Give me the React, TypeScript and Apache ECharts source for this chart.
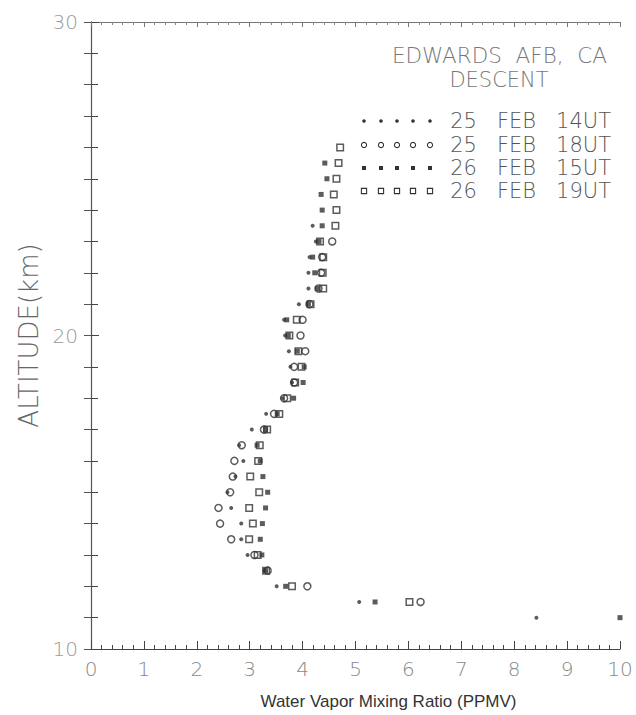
import React, { useEffect, useRef } from "react";
import * as echarts from "echarts";

const altitudes = [11, 11.5, 12, 12.5, 13, 13.5, 14, 14.5, 15, 15.5, 16, 16.5, 17, 17.5, 18, 18.5, 19, 19.5, 20, 20.5, 21, 21.5, 22, 22.5, 23, 23.5, 24, 24.5, 25, 25.5, 26];

// 25 FEB 14UT (small filled dots)
const feb25_14 = [8.42, 5.07, 3.51, 3.28, 2.96, 2.84, 2.84, 2.65, 2.58, 2.73, 2.88, 2.8, 3.04, 3.31, 3.62, 3.8, 3.77, 3.74, 3.67, 3.65, 3.93, 4.11, 4.11, 4.13, 4.25, 4.19, null, null, null, null, null];
// 25 FEB 18UT (open circles)
const feb25_18 = [null, 6.23, 4.09, 3.34, 3.09, 2.65, 2.44, 2.41, 2.63, 2.68, 2.71, 2.85, 3.27, 3.46, 3.65, 3.84, 3.84, 4.05, 3.96, 4.0, 4.13, 4.3, 4.35, 4.37, 4.56, null, null, null, null, null, null];
// 26 FEB 15UT (filled dots)
const feb26_15 = [10.0, 5.37, 3.68, 3.3, 3.23, 3.2, 3.24, 3.3, 3.34, 3.25, 3.2, 3.14, 3.3, 3.52, 3.83, 4.01, 4.03, 3.9, 3.73, 3.7, 4.11, 4.28, 4.23, 4.19, 4.31, 4.37, 4.37, 4.35, 4.46, 4.42, null];
// 26 FEB 19UT (open squares)
const feb26_19 = [null, 6.02, 3.8, 3.31, 3.15, 2.99, 3.06, 2.99, 3.18, 3.01, 3.16, 3.19, 3.33, 3.56, 3.71, 3.86, 3.98, 3.92, 3.75, 3.89, 4.15, 4.39, 4.38, 4.39, 4.33, 4.62, 4.64, 4.59, 4.64, 4.68, 4.71];

const seriesNames = ["25   FEB   14UT", "25   FEB   18UT", "26   FEB   15UT", "26   FEB   19UT"];
const xTicks = [0, 1, 2, 3, 4, 5, 6, 7, 8, 9, 10];
const yTicks = [10, 20, 30];

const toPoints = (vals: (number | null)[]) =>
  vals.map((v, i) => (v == null ? null : [v, altitudes[i]])).filter((p) => p !== null) as number[][];

const INK = "#333";

export default function App() {
  const ref = useRef<HTMLDivElement>(null);
  useEffect(() => {
    if (!ref.current) return;
    const chart = echarts.init(ref.current, null, { renderer: "svg" });

    const legendRowsY = [121, 145, 168, 191];
    const markerXs = [364, 381, 397, 413, 430];
    const graphics: any[] = [];
    legendRowsY.forEach((y, r) => {
      markerXs.forEach((x) => {
        if (r === 0) graphics.push({ type: "circle", shape: { cx: x, cy: y, r: 1.8 }, style: { fill: INK } });
        if (r === 1) graphics.push({ type: "circle", shape: { cx: x, cy: y, r: 2.6 }, style: { fill: "none", stroke: INK, lineWidth: 1.1 } });
        if (r === 2) graphics.push({ type: "rect", shape: { x: x - 2, y: y - 2, width: 4, height: 4 }, style: { fill: INK } });
        if (r === 3) graphics.push({ type: "rect", shape: { x: x - 2.6, y: y - 2.6, width: 5.2, height: 5.2 }, style: { fill: "none", stroke: INK, lineWidth: 1.1 } });
      });
      graphics.push({
        type: "text",
        x: 611,
        y: y,
        style: {
          text: seriesNames[r],
          align: "right",
          verticalAlign: "middle",
          fontSize: 21,
          lineHeight: 21,
          fontFamily: "DejaVu Sans",
          fontWeight: 200,
          fill: "#555",
        },
      });
    });
    graphics.push({
      type: "text",
      x: 607,
      y: 55,
      style: { text: "EDWARDS  AFB,  CA", align: "right", verticalAlign: "middle", fontSize: 21.5, fontFamily: "DejaVu Sans", fontWeight: 200, fill: "#777" },
    });
    graphics.push({
      type: "text",
      x: 499,
      y: 80,
      style: { text: "DESCENT", align: "center", verticalAlign: "middle", fontSize: 21, fontFamily: "DejaVu Sans", fontWeight: 200, fill: "#777" },
    });

    const baseAxisLine = { show: true, lineStyle: { color: "#444", width: 1.2 } };

    chart.setOption({
      animation: false,
      backgroundColor: "#fff",
      grid: { left: 91, right: 16, top: 22, bottom: 59, containLabel: false },
      xAxis: [
        {
          type: "value",
          min: 0,
          max: 10,
          interval: 1,
          position: "bottom",
          axisLine: baseAxisLine,
          axisTick: { show: true, inside: true, length: 8, lineStyle: { color: "#444" } },
          minorTick: { show: true, splitNumber: 5, length: 4, lineStyle: { color: "#444" } },
          splitLine: { show: false },
          axisLabel: {
            color: "#888",
            fontSize: 20,
            fontFamily: "DejaVu Sans",
            fontWeight: 200,
            margin: 10,
            formatter: (v: number) => (xTicks.includes(v) ? String(v) : ""),
          },
          name: "Water Vapor Mixing Ratio (PPMV)",
          nameLocation: "middle",
          nameGap: 44,
          nameTextStyle: { color: "#333", fontSize: 17, fontFamily: "Liberation Sans", padding: [0, 0, 0, 66] },
        },
        {
          type: "value",
          min: 0,
          max: 10,
          interval: 1,
          position: "top",
          axisLine: { show: true, lineStyle: { color: "#777", width: 1 } },
          axisTick: { show: true, inside: true, length: 5, lineStyle: { color: "#777" } },
          minorTick: { show: true, splitNumber: 5, length: 3, lineStyle: { color: "#888" } },
          splitLine: { show: false },
          axisLabel: { show: false },
        },
      ],
      yAxis: [
        {
          type: "value",
          min: 10,
          max: 30,
          interval: 10,
          position: "left",
          axisLine: baseAxisLine,
          axisTick: { show: true, inside: true, length: 8, lineStyle: { color: "#444" } },
          minorTick: { show: true, splitNumber: 10, length: 7, lineStyle: { color: "#444" } },
          splitLine: { show: false },
          axisLabel: {
            color: "#999",
            fontSize: 20,
            fontFamily: "DejaVu Sans",
            fontWeight: 200,
            margin: 13,
            formatter: (v: number) => (yTicks.includes(v) ? String(v) : ""),
          },
          name: "ALTITUDE(km)",
          nameLocation: "middle",
          nameGap: 48,
          nameRotate: 90,
          nameTextStyle: { color: "#666", fontSize: 26, fontFamily: "DejaVu Sans", fontWeight: 200 },
        },
        {
          type: "value",
          min: 10,
          max: 30,
          interval: 10,
          position: "right",
          axisLine: { show: true, lineStyle: { color: "#555", width: 1 } },
          axisTick: { show: true, inside: true, length: 7, lineStyle: { color: "#555" } },
          minorTick: { show: true, splitNumber: 10, length: 7, lineStyle: { color: "#555" } },
          splitLine: { show: false },
          axisLabel: { show: false },
        },
      ],
      series: [
        {
          name: seriesNames[0],
          type: "scatter",
          data: toPoints(feb25_14),
          symbol: "circle",
          symbolSize: 4,
          itemStyle: { color: INK },
          clip: false,
        },
        {
          name: seriesNames[1],
          type: "scatter",
          data: toPoints(feb25_18),
          symbol: "circle",
          symbolSize: 7,
          itemStyle: { color: "none", borderColor: INK, borderWidth: 1.5 },
          clip: false,
        },
        {
          name: seriesNames[2],
          type: "scatter",
          data: toPoints(feb26_15),
          symbol: "rect",
          symbolSize: 5,
          itemStyle: { color: INK },
          clip: false,
        },
        {
          name: seriesNames[3],
          type: "scatter",
          data: toPoints(feb26_19),
          symbol: "rect",
          symbolSize: 6.5,
          itemStyle: { color: "none", borderColor: INK, borderWidth: 1.5 },
          clip: false,
        },
      ],
      graphic: graphics,
    });
    return () => chart.dispose();
  }, []);

  return <div ref={ref} style={{ position: "fixed", left: 0, top: 0, width: 636, height: 715 }} />;
}
